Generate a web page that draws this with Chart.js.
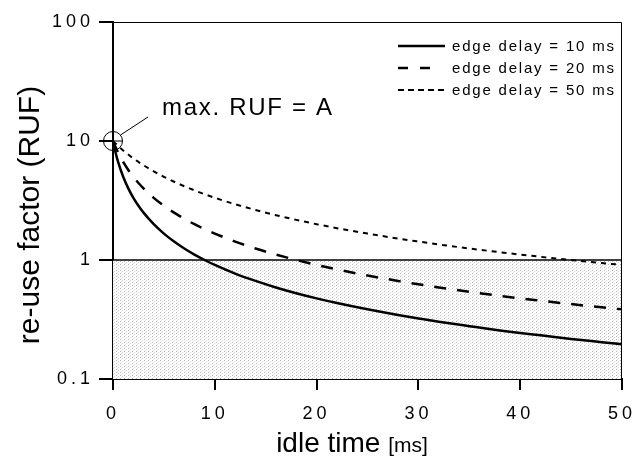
<!DOCTYPE html>
<html lang="en">
<head>
    <meta charset="UTF-8">
    <title>re-use factor vs idle time</title>
    <script src="https://cdn.jsdelivr.net/npm/chart.js"></script>
    <style>
        html, body { margin: 0; padding: 0; background: #fff; }
        #wrap { width: 636px; height: 459px; }
    </style>
</head>
<body>
    <div id="wrap"><canvas id="myChart" width="636" height="459"></canvas></div>

    <script>
        // idle time [ms]
        const idleTime = [0, 0.25, 0.5, 1, 1.5, 2, 2.5, 3, 4, 5, 6, 7, 8, 9, 10, 12, 14, 16, 18, 20, 22, 25, 28, 30, 32, 35, 38, 40, 42, 45, 48, 50];
        // re-use factor for each edge delay
        const ruf10 = [10, 8.0, 6.67, 5.0, 4.0, 3.33, 2.86, 2.5, 2.0, 1.667, 1.429, 1.25, 1.111, 1.0, 0.909, 0.769, 0.667, 0.588, 0.526, 0.476, 0.435, 0.385, 0.345, 0.323, 0.303, 0.278, 0.256, 0.244, 0.233, 0.217, 0.204, 0.196];
        const ruf20 = [10, 8.89, 8.0, 6.67, 5.71, 5.0, 4.44, 4.0, 3.33, 2.857, 2.5, 2.222, 2.0, 1.818, 1.667, 1.429, 1.25, 1.111, 1.0, 0.909, 0.833, 0.741, 0.667, 0.625, 0.588, 0.541, 0.5, 0.476, 0.455, 0.426, 0.4, 0.385];
        const ruf50 = [10, 9.52, 9.09, 8.33, 7.69, 7.14, 6.67, 6.25, 5.56, 5.0, 4.545, 4.167, 3.846, 3.571, 3.333, 2.941, 2.632, 2.381, 2.174, 2.0, 1.852, 1.667, 1.515, 1.429, 1.351, 1.25, 1.163, 1.111, 1.064, 1.0, 0.943, 0.909];
        const seriesLabels = ['edge delay = 10 ms', 'edge delay = 20 ms', 'edge delay = 50 ms'];
        const xTicks = [0, 10, 20, 30, 40, 50];
        const yTicks = [0.1, 1, 10, 100];
        const maxRuf = 10;

        const FONT = '"Liberation Sans", Arial, sans-serif';
        const legendLen = [47, 32, 49];

        const toPoints = ys => idleTime.map((t, i) => ({ x: t, y: ys[i] }));

        // sparse dotted gray fill for the RUF < 1 area
        function dotPattern() {
            const c = document.createElement('canvas');
            c.width = 4; c.height = 3;
            const g = c.getContext('2d');
            g.fillStyle = '#fff';
            g.fillRect(0, 0, 4, 3);
            g.fillStyle = '#b4b4b4';
            g.fillRect(0, 0, 1, 1);
            g.fillStyle = '#d4d4d4';
            g.fillRect(2, 1, 1, 1);
            g.fillStyle = '#e4e4e4';
            g.fillRect(1, 2, 1, 1);
            return g.createPattern(c, 'repeat');
        }

        const decorPlugin = {
            id: 'decor',
            beforeDraw(chart) {
                // spaced-out digits like the scanned original
                chart.ctx.letterSpacing = '4px';
            },
            beforeDatasetsDraw(chart) {
                const { ctx, chartArea: a, scales: { y } } = chart;
                const y1 = y.getPixelForValue(1);
                ctx.save();
                ctx.fillStyle = dotPattern();
                ctx.fillRect(a.left, y1, a.right - a.left, a.bottom - y1);
                ctx.strokeStyle = '#000';
                ctx.lineWidth = 1.5;
                ctx.beginPath();
                ctx.moveTo(a.left, y1);
                ctx.lineTo(a.right, y1);
                ctx.stroke();
                // top and right frame
                ctx.lineWidth = 1;
                ctx.beginPath();
                ctx.moveTo(a.left, a.top + 0.5);
                ctx.lineTo(a.right - 0.5, a.top + 0.5);
                ctx.lineTo(a.right - 0.5, a.bottom);
                ctx.stroke();
                ctx.restore();
            },
            afterDraw(chart) {
                const { ctx, chartArea: a, scales: { x, y } } = chart;
                ctx.save();
                ctx.setLineDash([]);
                ctx.strokeStyle = '#000';
                ctx.fillStyle = '#000';

                // outward tick marks
                yTicks.forEach(v => {
                    const py = Math.round(y.getPixelForValue(v));
                    ctx.fillRect(a.left - 14, py - 1, 14, 2);
                });
                xTicks.forEach(v => {
                    const px = Math.round(x.getPixelForValue(v));
                    ctx.fillRect(px - 1, a.bottom, 2, 11);
                });

                // max RUF marker
                const cx = x.getPixelForValue(0), cy = y.getPixelForValue(maxRuf);
                ctx.lineWidth = 1;
                ctx.beginPath();
                ctx.arc(cx, cy, 9.5, 0, Math.PI * 2);
                ctx.stroke();
                ctx.beginPath();
                ctx.moveTo(cx - 9.5, cy); ctx.lineTo(cx + 9.5, cy);
                ctx.moveTo(cx + 7.5, cy - 6); ctx.lineTo(cx + 35, cy - 24);
                ctx.stroke();
                ctx.font = '24px ' + FONT;
                ctx.letterSpacing = '1.7px';
                ctx.textBaseline = 'alphabetic';
                ctx.fillText('max. RUF = A', cx + 49, cy - 26);

                // legend
                const ds = chart.data.datasets;
                ctx.font = '15px ' + FONT;
                ctx.letterSpacing = '1.8px';
                ctx.textBaseline = 'middle';
                ds.forEach((d, i) => {
                    const ly = a.top + 24 + i * 22;
                    ctx.save();
                    ctx.lineWidth = d.borderWidth;
                    ctx.setLineDash(d.legendDash || d.borderDash || []);
                    ctx.beginPath();
                    ctx.moveTo(a.right - 224, ly);
                    ctx.lineTo(a.right - 224 + legendLen[i], ly);
                    ctx.stroke();
                    ctx.restore();
                    ctx.fillText(d.label, a.right - 170, ly + 1);
                });

                // y title
                ctx.letterSpacing = '0px';
                ctx.save();
                ctx.translate(31, 215);
                ctx.rotate(-Math.PI / 2);
                ctx.font = '30px ' + FONT;
                ctx.textAlign = 'center';
                ctx.textBaseline = 'middle';
                ctx.fillText('re-use factor (RUF)', 0, 0);
                ctx.restore();

                // x title with smaller unit
                ctx.textBaseline = 'alphabetic';
                const big = '28px ' + FONT;
                const small = '21px ' + FONT;
                ctx.font = big;
                const w1 = ctx.measureText('idle time ').width;
                ctx.font = small;
                const w2 = ctx.measureText('[ms]').width;
                const sx = 352 - (w1 + w2) / 2;
                ctx.font = big;
                ctx.fillText('idle time ', sx, 452);
                ctx.font = small;
                ctx.fillText('[ms]', sx + w1, 452);
                ctx.restore();
            }
        };

        const ctx = document.getElementById('myChart').getContext('2d');
        const myChart = new Chart(ctx, {
            type: 'line',
            data: {
                datasets: [
                    { label: seriesLabels[0], data: toPoints(ruf10), borderColor: '#000', borderWidth: 2.5, borderDash: [] },
                    { label: seriesLabels[1], data: toPoints(ruf20), borderColor: '#000', borderWidth: 2.5, borderDash: [12, 11], legendDash: [10, 12] },
                    { label: seriesLabels[2], data: toPoints(ruf50), borderColor: '#000', borderWidth: 2, borderDash: [5, 5], legendDash: [6, 4] }
                ]
            },
            options: {
                responsive: false,
                animation: false,
                cubicInterpolationMode: 'monotone',
                elements: { point: { radius: 0 } },
                layout: { padding: { top: 22, right: 14, left: 0, bottom: 0 } },
                plugins: { legend: { display: false }, tooltip: { enabled: false } },
                scales: {
                    x: {
                        type: 'linear',
                        min: 0,
                        max: 50,
                        afterBuildTicks: s => { s.ticks = xTicks.map(v => ({ value: v })); },
                        afterFit: s => { s.height = 80; s.paddingLeft = 0; s.paddingRight = 0; },
                        grid: { display: false, drawTicks: false },
                        border: { display: true, color: '#000', width: 2 },
                        ticks: { color: '#000', padding: 24, maxRotation: 0, font: { family: FONT, size: 18 } }
                    },
                    y: {
                        type: 'logarithmic',
                        min: 0.1,
                        max: 100,
                        afterBuildTicks: s => { s.ticks = yTicks.map(v => ({ value: v })); },
                        afterFit: s => { s.width = 113; s.paddingTop = 0; s.paddingBottom = 0; },
                        grid: { display: false, drawTicks: false },
                        border: { display: true, color: '#000', width: 2 },
                        ticks: {
                            color: '#000',
                            padding: 19,
                            font: { family: FONT, size: 18 },
                            callback: v => String(v)
                        }
                    }
                }
            },
            plugins: [decorPlugin]
        });
    </script>
</body>
</html>
